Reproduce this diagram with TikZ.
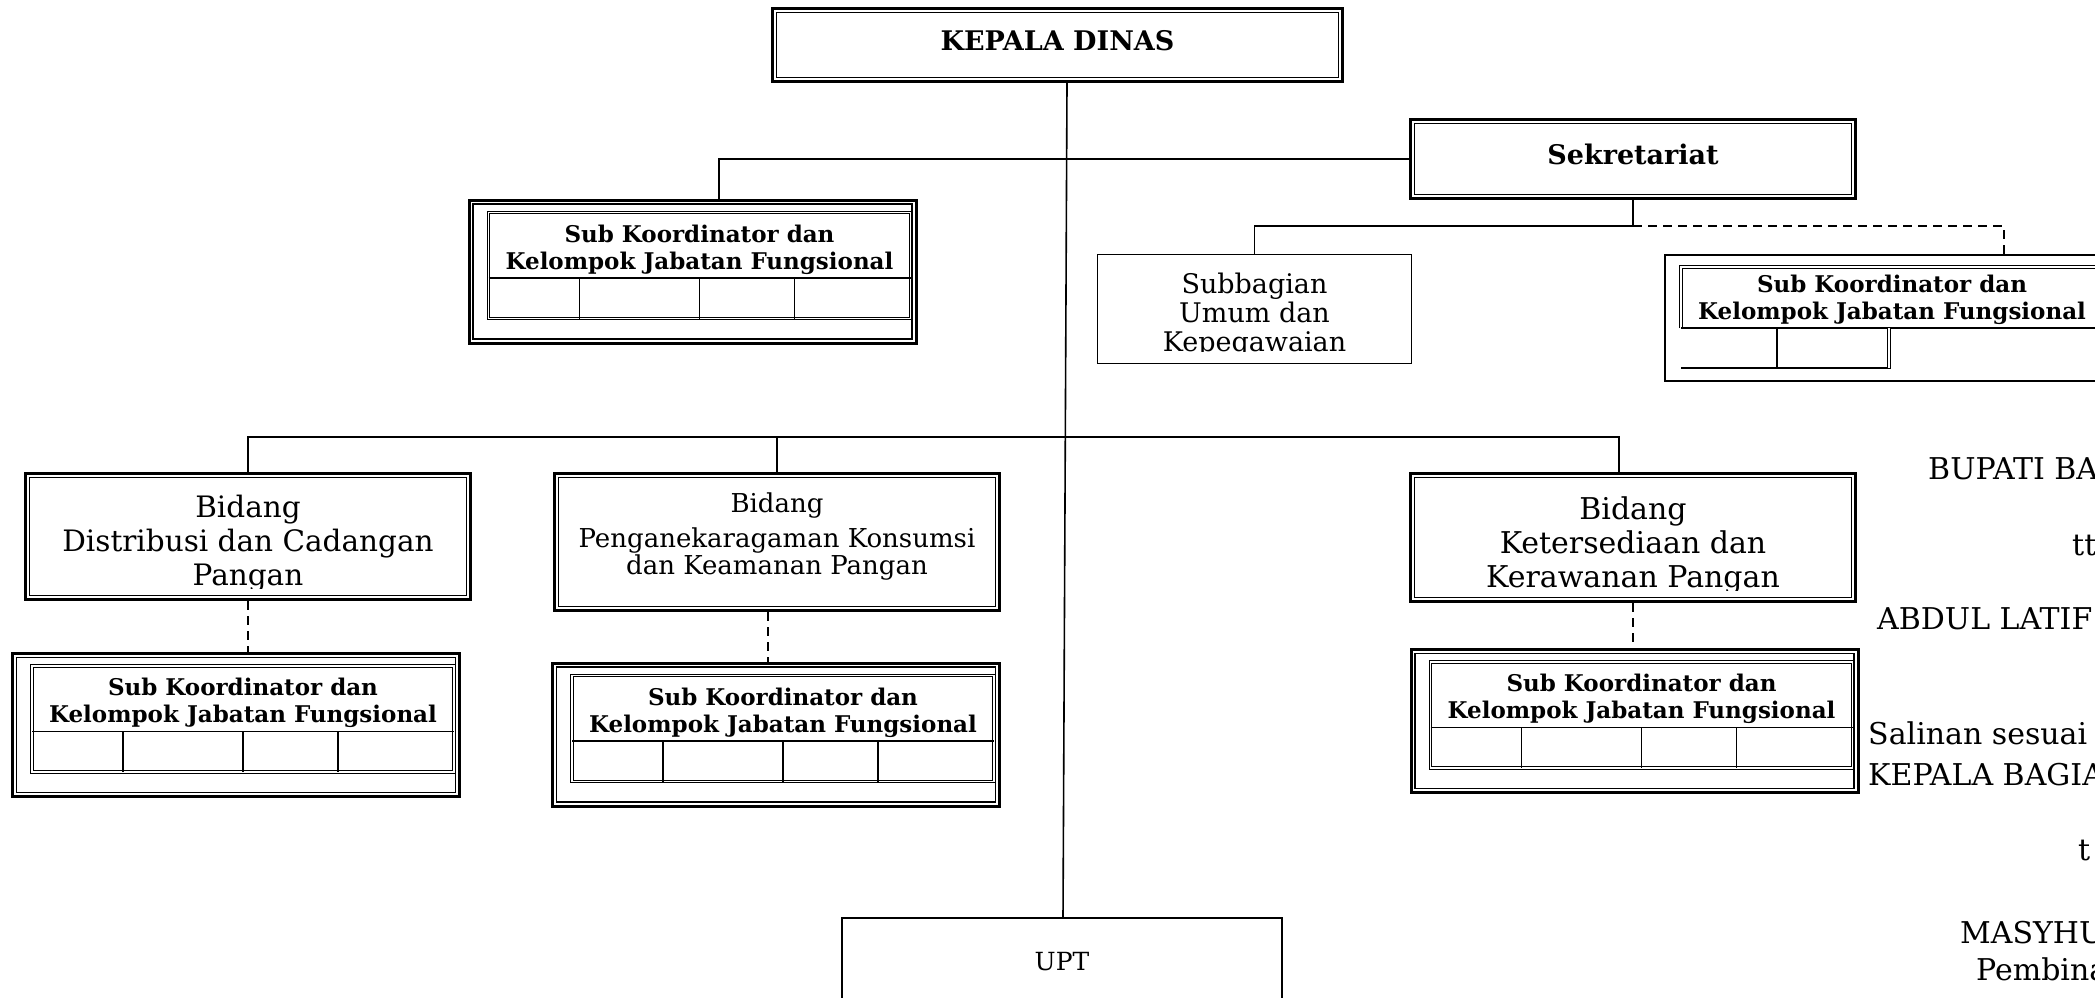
\documentclass[tikz,border=0pt]{standalone}
\usepackage{fontspec}
\setmainfont{DejaVu Serif}
\usepackage{tikz}
\usetikzlibrary{calc}
\tikzstyle{dblbox}=[draw, line width=3pt, inner sep=0pt, align=center]
\tikzstyle{inframe}=[line width=1.5pt]
\tikzstyle{onebox}=[draw, line width=1.3pt, inner sep=0pt, align=center]
\tikzstyle{tbl}=[line width=1pt, double, double distance=1.6pt]
\tikzstyle{cell}=[line width=1.4pt]
\tikzstyle{link}=[line width=1.6pt]
\tikzstyle{dlink}=[line width=1.6pt, dash pattern=on 9pt off 6pt]
\tikzstyle{headfont}=[font=\fontsize{27}{32}\selectfont\bfseries, text depth=9pt]
\tikzstyle{subfont}=[font=\fontsize{23}{27}\selectfont\bfseries, align=center]
\tikzstyle{signfont}=[font=\fontsize{30}{36}\selectfont, anchor=west, inner sep=0pt]

\begin{document}
\begin{tikzpicture}[x=1pt,y=-1pt]
\useasboundingbox (0,0) rectangle (2095,997);
\clip (0,0) rectangle (2095,997);

% pimpinan
\node[dblbox, headfont, minimum width=570, minimum height=73] (kepala) at (1057.5,45) {KEPALA DINAS};
\node[dblbox, headfont, minimum width=445, minimum height=79] (sekr) at (1633,159) {Sekretariat};
\node[onebox, minimum width=314, minimum height=109] (subbag) at (1254.5,309) {};
\begin{scope}
\clip (subbag.north west) rectangle ([yshift=13pt]subbag.south east);
\node[font=\fontsize{27}{29}\selectfont, align=center] (subbag-t) at ($(subbag)+(0,6)$) {Subbagian\\Umum dan\\Kepegawaian};
\end{scope}
\node[onebox, minimum width=440, minimum height=88, font=\fontsize{25}{28}\selectfont] (upt) at (1062,962) {UPT};

% bidang
\node[dblbox, minimum width=445, minimum height=126] (dist) at (248,536.5) {};
\node[dblbox, minimum width=445, minimum height=137] (peng) at (777,542) {};
\node[dblbox, minimum width=445, minimum height=128] (ket) at (1633,537.5) {};
\begin{scope}
\clip (dist.north west) rectangle ([yshift=12.5pt]dist.south east);
\node[font=\fontsize{29.5}{34}\selectfont, align=center] (dist-t) at ($(dist)+(0,7)$) {Bidang\\Distribusi dan Cadangan\\Pangan};
\end{scope}
\node[font=\fontsize{26}{35}\selectfont, align=center] (peng-t) at ($(peng)+(0,-6)$) {Bidang\\Penganekaragaman Konsumsi\\[-8pt]dan Keamanan Pangan};
\begin{scope}
\clip (ket.north west) rectangle ([yshift=12.5pt]ket.south east);
\node[font=\fontsize{30}{34}\selectfont, align=center] (ket-t) at ($(ket)+(0,8)$) {Bidang\\Ketersediaan dan\\Kerawanan Pangan};
\end{scope}

% kelompok jabatan fungsional
\foreach \n/\cx/\cy in {skA/692.5/271.5, skB/236/725, skC/776/734.5, skD/1634.5/721}{
  \node[dblbox, minimum width=447, minimum height=143] (\n) at (\cx,\cy) {};
  \draw[tbl] ({\cx-204},{\cy-59}) rectangle ({\cx+218},{\cy+47});
  \draw[cell] ({\cx-204},{\cy+6.5}) -- ({\cx+218},{\cy+6.5});
  \foreach \d in {-113,7,102}
    \draw[cell] ({\cx+\d},{\cy+6.5}) -- ({\cx+\d},{\cy+47});
  \node[subfont] (\n-t) at ({\cx+7},{\cy-22}) {Sub Koordinator dan\\Kelompok Jabatan Fungsional};
}
\node[onebox, minimum width=475, minimum height=126] (skE) at (1902.5,318) {};
\draw[tbl] (1681,328) -- (1681,267) -- (2140,267);
\draw[cell] (1681,328) -- (2140,328);
\draw[cell] (1681,368) -- (1891,368);
\draw[cell] (1777,328) -- (1777,368);
\draw[tbl] (1889,328) -- (1889,368);
\node[subfont] (skE-t) at (1892,300) {Sub Koordinator dan\\Kelompok Jabatan Fungsional};

% garis dalam bingkai ganda
\foreach \b in {kepala,sekr,dist,peng,ket,skA,skB,skC,skD}
  \draw[inframe] ([xshift=5.5pt,yshift=-5.5pt]\b.north west) rectangle ([xshift=-5.5pt,yshift=5.5pt]\b.south east);

% garis
\draw[link] ([xshift=9.5pt]kepala.south) -- ([xshift=1pt]upt.north);
\draw[link] ([xshift=26.5pt]skA.north) |- (sekr.west);
\draw[link] (sekr.south) -- ++(0,26) coordinate (sj) -| (subbag.north);
\draw[dlink] (sj) -| ([xshift=101.5pt]skE.north);
\draw[link] (dist.north) -- ++(0,-35) coordinate (bl) -| ([xshift=-14pt]ket.north);
\draw[link] (peng.north) -- (peng.north |- bl);
\draw[dlink] (dist.south) -- (dist.south |- skB.north);
\draw[dlink] ([xshift=-9pt]peng.south) -- ([xshift=-9pt]peng.south |- skC.north);
\draw[dlink] (ket.south) -- (ket.south |- skD.north);

% pengesahan
\node[signfont] (bup) at (1928,469) {BUPATI BA};
\node[signfont] (ttd1) at (2072,545) {tt};
\node[signfont] (nama1) at (1877,619) {ABDUL LATIF};
\node[signfont] (sal) at (1868,733) {Salinan sesuai};
\node[signfont] (kabag) at (1868,775) {KEPALA BAGIA};
\node[signfont] (ttd2) at (2078,850) {t};
\node[signfont] (nama2) at (1960,933) {MASYHU};
\node[signfont] (pangkat) at (1976,969) {Pembina};
\end{tikzpicture}
\end{document}
